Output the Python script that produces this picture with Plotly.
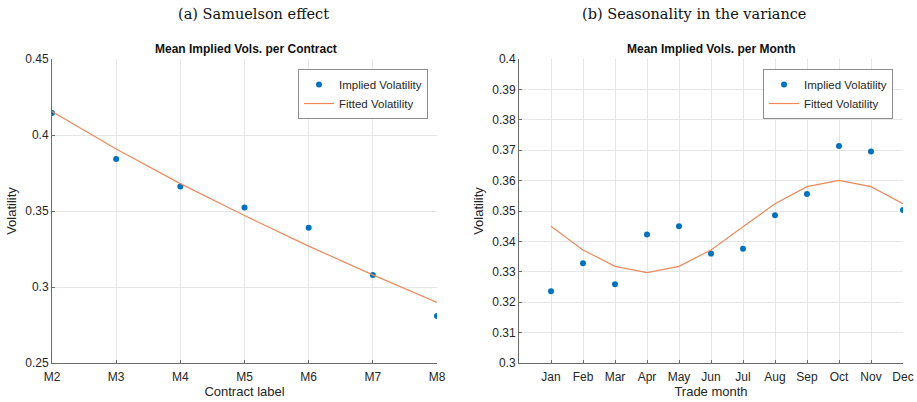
import plotly.graph_objects as go

# ---- Data ----
contracts = ["M2", "M3", "M4", "M5", "M6", "M7", "M8"]
implied_vol_contract = [0.4144, 0.3842, 0.3661, 0.3523, 0.3390, 0.3079, 0.2810]
fitted_vol_contract = [0.4155, 0.3908, 0.3680, 0.3470, 0.3269, 0.3080, 0.2898]

months = ["Jan", "Feb", "Mar", "Apr", "May", "Jun", "Jul", "Aug", "Sep", "Oct", "Nov", "Dec"]
month_idx = [1, 2, 3, 4, 5, 6, 7, 8, 9, 10, 11, 12]
implied_vol_month = [0.3236, 0.3328, 0.3259, 0.3423, 0.3450, 0.3360, 0.3376, 0.3486, 0.3556, 0.3714, 0.3696, 0.3503]
fitted_vol_month = [0.3450, 0.3372, 0.3318, 0.3297, 0.3318, 0.3372, 0.3448, 0.3524, 0.3580, 0.3601, 0.3580, 0.3524]

left_yticks = [0.25, 0.3, 0.35, 0.4, 0.45]
right_yticks = [0.30, 0.31, 0.32, 0.33, 0.34, 0.35, 0.36, 0.37, 0.38, 0.39, 0.40]
right_yticklabels = ["0.3", "0.31", "0.32", "0.33", "0.34", "0.35", "0.36", "0.37", "0.38", "0.39", "0.4"]

BLUE = "#0072BD"
ORANGE = "#EC8A5E"
AXC = "#6b6b6b"
TXT = "#262626"
GRID = "#e6e6e6"
W, H = 917, 402

fig = go.Figure()

# Left panel
fig.add_trace(go.Scatter(x=list(range(len(contracts))), y=implied_vol_contract, mode="markers",
                         marker=dict(color=BLUE, size=6), name="Implied Volatility",
                         xaxis="x", yaxis="y", legend="legend"))
fig.add_trace(go.Scatter(x=list(range(len(contracts))), y=fitted_vol_contract, mode="lines",
                         line=dict(color=ORANGE, width=1.2), name="Fitted Volatility",
                         xaxis="x", yaxis="y", legend="legend"))
# Right panel
fig.add_trace(go.Scatter(x=month_idx, y=implied_vol_month, mode="markers",
                         marker=dict(color=BLUE, size=6), name="Implied Volatility",
                         xaxis="x2", yaxis="y2", legend="legend2"))
fig.add_trace(go.Scatter(x=month_idx, y=fitted_vol_month, mode="lines",
                         line=dict(color=ORANGE, width=1.2), name="Fitted Volatility",
                         xaxis="x2", yaxis="y2", legend="legend2"))

x1 = [52 / W, 437 / W]
x2 = [519 / W, 903 / W]
ydom = [1 - 363 / H, 1 - 59 / H]

TF = dict(family="Liberation Sans, Arial", size=12, color=TXT)
axis_common = dict(showgrid=True, gridcolor=GRID, gridwidth=1, showline=True, linecolor=AXC,
                   linewidth=1, ticks="inside", ticklen=3, tickcolor=AXC,
                   tickfont=TF, automargin=False,
                   zeroline=False, mirror=False)
title_font = dict(family="Liberation Sans, Arial", size=13, color=TXT)
legend_font = dict(family="Liberation Sans, Arial", size=11.5, color=TXT)

fig.update_layout(
    width=W, height=H, margin=dict(l=0, r=0, t=0, b=0, autoexpand=False),
    paper_bgcolor="white", plot_bgcolor="white",
    xaxis=dict(domain=x1, anchor="y", range=[0, 6], tickmode="array",
               tickvals=list(range(len(contracts))), ticktext=contracts,
               ticklabelstandoff=3,
               title=dict(text="Contract label", standoff=3, font=title_font),
               **axis_common),
    yaxis=dict(domain=ydom, anchor="x", range=[0.25, 0.45], tickmode="array",
               tickvals=left_yticks, ticktext=["0.25", "0.3", "0.35", "0.4", "0.45"],
               title=dict(text="Volatility", standoff=5, font=title_font),
               **axis_common),
    xaxis2=dict(domain=x2, anchor="y2", range=[0, 12], tickmode="array",
                tickvals=month_idx, ticktext=months,
                ticklabelstandoff=3,
                title=dict(text="Trade month", standoff=3, font=title_font),
                **axis_common),
    yaxis2=dict(domain=ydom, anchor="x2", range=[0.3, 0.4], tickmode="array",
                tickvals=right_yticks, ticktext=right_yticklabels,
                title=dict(text="Volatility", standoff=5, font=title_font),
                **axis_common),
    legend=dict(x=428 / W, xanchor="right", y=1 - 69 / H, yanchor="top",
                bgcolor="white", bordercolor="#8c8c8c", borderwidth=1,
                font=legend_font, tracegroupgap=0, itemwidth=30),
    legend2=dict(x=893 / W, xanchor="right", y=1 - 69 / H, yanchor="top",
                 bgcolor="white", bordercolor="#8c8c8c", borderwidth=1,
                 font=legend_font, tracegroupgap=0, itemwidth=30),
    showlegend=True,
    annotations=[
        dict(text="(a) Samuelson effect", x=253 / W, y=1 - 14 / H, xref="paper", yref="paper",
             xanchor="center", yanchor="middle",
             showarrow=False, font=dict(family="DejaVu Serif", size=14.5, color="#111")),
        dict(text="(b) Seasonality in the variance", x=694 / W, y=1 - 14 / H, xref="paper", yref="paper",
             xanchor="center", yanchor="middle",
             showarrow=False, font=dict(family="DejaVu Serif", size=14.5, color="#111")),
        dict(text="<b>Mean Implied Vols. per Contract</b>", x=246 / W, y=1 - 49 / H,
             xref="paper", yref="paper", showarrow=False, xanchor="center", yanchor="middle",
             font=dict(family="Liberation Sans, Arial", size=12, color="#111")),
        dict(text="<b>Mean Implied Vols. per Month</b>", x=711 / W, y=1 - 49 / H,
             xref="paper", yref="paper", showarrow=False, xanchor="center", yanchor="middle",
             font=dict(family="Liberation Sans, Arial", size=12, color="#111")),
    ],
)

fig.write_html("out.html", config={"displayModeBar": False},
               post_script="document.body.style.margin='0px';document.body.style.padding='0px';")
